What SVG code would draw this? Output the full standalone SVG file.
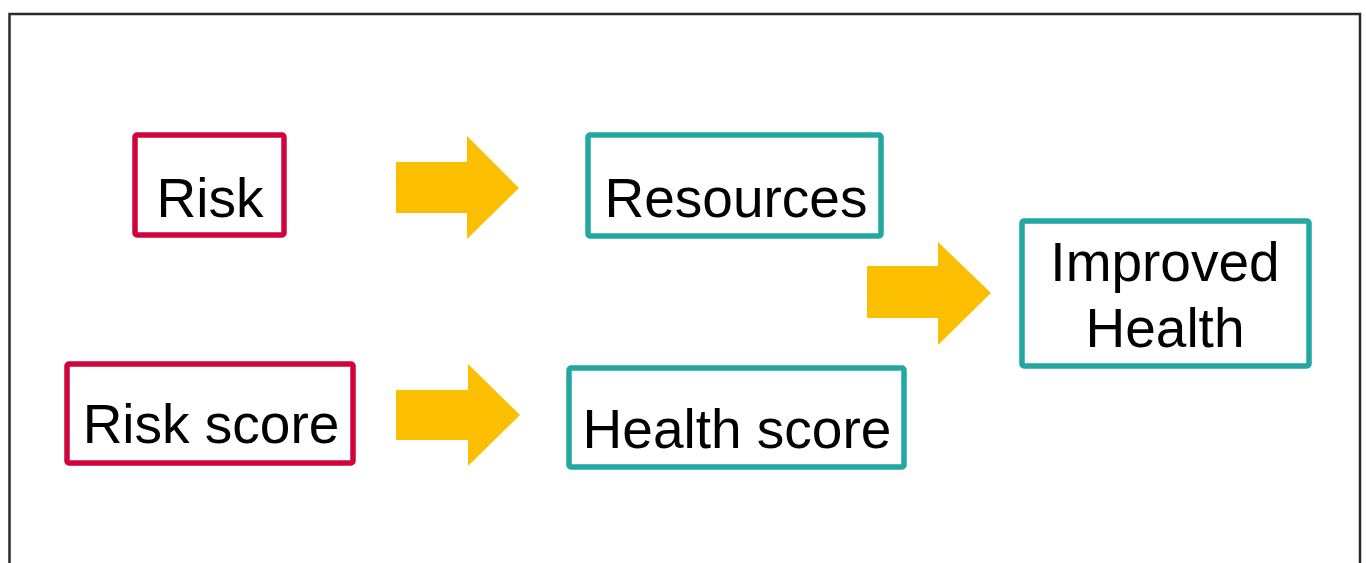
<svg xmlns="http://www.w3.org/2000/svg" width="1366" height="563" viewBox="0 0 1366 563">
  <style>
    .box { fill: #ffffff; stroke-width: 5.5; }
    .risk { stroke: #d0043c; }
    .health { stroke: #22a7a3; }
    .label { font-family: "Liberation Sans", Arial, sans-serif; font-size: 55px; fill: #000000; text-anchor: middle; }
    .arrow { fill: #fbbf00; }
  </style>
  <rect x="0" y="0" width="1366" height="563" fill="#ffffff"/>
  <!-- slide frame, open at the bottom -->
  <path d="M9.5 563 V14 H1360 V563" fill="none" stroke="#2a2a2a" stroke-width="2.5"/>

  <g id="connectors">
    <polygon class="arrow" points="396,162 467,162 467,136 519,188 467,239 467,213 396,213"/>
    <polygon class="arrow" points="396,390 468,390 468,364 520,415 468,466 468,440 396,440"/>
    <polygon class="arrow" points="867,266 938,266 938,242 991,293 938,345 938,318 867,318"/>
  </g>

  <g id="node-risk">
    <rect class="box risk" x="135" y="135" width="149" height="100" rx="2"/>
    <text class="label" x="210" y="217">Risk</text>
  </g>
  <g id="node-resources">
    <rect class="box health" x="588" y="135" width="293" height="101" rx="2"/>
    <text class="label" x="736" y="217">Resources</text>
  </g>
  <g id="node-risk-score">
    <rect class="box risk" x="67" y="364" width="286" height="99" rx="2"/>
    <text class="label" x="211" y="443">Risk score</text>
  </g>
  <g id="node-health-score">
    <rect class="box health" x="569" y="368" width="335" height="99" rx="2"/>
    <text class="label" x="737" y="448">Health score</text>
  </g>
  <g id="node-improved-health">
    <rect class="box health" x="1022" y="221" width="287" height="145" rx="2"/>
    <text class="label" x="1165" y="281">Improved</text>
    <text class="label" x="1165" y="347">Health</text>
  </g>
</svg>
